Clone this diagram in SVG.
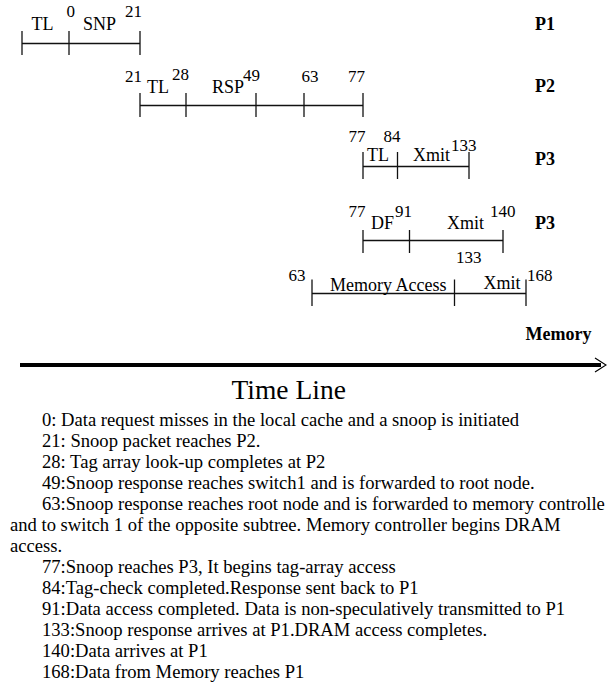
<svg xmlns="http://www.w3.org/2000/svg" width="607" height="692" viewBox="0 0 607 692">
<style>
  text { font-family: "Liberation Serif", "Times New Roman", serif; fill: #000; }
  .lbl { font-size: 18px; }
  .num { font-size: 17px; }
  .proc { font-size: 18px; font-weight: bold; }
  .title { font-size: 27.5px; }
  .body { font-size: 18.6px; }
  .seg line { stroke: #111; stroke-width: 1.3; }
</style>
<rect width="607" height="692" fill="#fff"/>

<g id="p1-row" class="seg">
  <line x1="22" y1="43.5" x2="140" y2="43.5"/>
  <line x1="22" y1="31" x2="22" y2="55"/>
  <line x1="69" y1="31" x2="69" y2="55"/>
  <line x1="140" y1="31" x2="140" y2="55"/>
  <text class="lbl" x="31.5" y="30">TL</text>
  <text class="num" x="66.5" y="17">0</text>
  <text class="lbl" x="83" y="30">SNP</text>
  <text class="num" x="125" y="17">21</text>
  <text class="proc" x="535" y="30">P1</text>
</g>

<g id="p2-row" class="seg">
  <line x1="140" y1="105.5" x2="363" y2="105.5"/>
  <line x1="140" y1="93" x2="140" y2="117"/>
  <line x1="186" y1="93" x2="186" y2="117"/>
  <line x1="256" y1="93" x2="256" y2="117"/>
  <line x1="304" y1="93" x2="304" y2="117"/>
  <line x1="363" y1="93" x2="363" y2="117"/>
  <text class="num" x="125" y="82">21</text>
  <text class="lbl" x="147" y="93">TL</text>
  <text class="num" x="172" y="80">28</text>
  <text class="lbl" x="212" y="93">RSP</text>
  <text class="num" x="243" y="81">49</text>
  <text class="num" x="301.5" y="82">63</text>
  <text class="num" x="348" y="82">77</text>
  <text class="proc" x="535" y="92">P2</text>
</g>

<g id="p3-row-a" class="seg">
  <line x1="363" y1="166.5" x2="469" y2="166.5"/>
  <line x1="363" y1="152" x2="363" y2="179"/>
  <line x1="397.5" y1="152" x2="397.5" y2="179"/>
  <line x1="469" y1="152" x2="469" y2="179"/>
  <text class="num" x="348.5" y="142">77</text>
  <text class="num" x="383.5" y="142">84</text>
  <text class="lbl" x="367" y="161">TL</text>
  <text class="lbl" x="413" y="161">Xmit</text>
  <text class="num" x="451" y="151">133</text>
  <text class="proc" x="535" y="165">P3</text>
</g>

<g id="p3-row-b" class="seg">
  <line x1="363" y1="240.5" x2="503" y2="240.5"/>
  <line x1="363" y1="230" x2="363" y2="253"/>
  <line x1="409.5" y1="230" x2="409.5" y2="253"/>
  <line x1="503" y1="230" x2="503" y2="253"/>
  <text class="num" x="348.5" y="217">77</text>
  <text class="lbl" x="371" y="228.5">DF</text>
  <text class="num" x="395" y="217">91</text>
  <text class="lbl" x="447" y="228.5">Xmit</text>
  <text class="num" x="490" y="217">140</text>
  <text class="num" x="456" y="263">133</text>
  <text class="proc" x="535" y="228.5">P3</text>
</g>

<g id="memory-row" class="seg">
  <line x1="312" y1="293.5" x2="526" y2="293.5"/>
  <line x1="312" y1="279.5" x2="312" y2="306"/>
  <line x1="454.5" y1="279.5" x2="454.5" y2="306"/>
  <line x1="526" y1="279.5" x2="526" y2="306"/>
  <text class="num" x="288.5" y="281">63</text>
  <text class="lbl" x="330" y="291">Memory Access</text>
  <text class="lbl" x="483.5" y="289">Xmit</text>
  <text class="num" x="527" y="280.5">168</text>
  <text class="proc" x="525.5" y="340">Memory</text>
</g>

<g id="connectors">
  <line x1="20" y1="365" x2="601" y2="365" stroke="#000" stroke-width="4"/>
  <polyline points="595,358 606,365 595,372" fill="none" stroke="#000" stroke-width="1.2"/>
</g>

<g id="title">
  <text class="title" x="231.5" y="399">Time Line</text>
</g>

<g id="notes" class="body">
  <text x="42" y="426">0: Data request misses in the local cache and a snoop is initiated</text>
  <text x="42" y="447">21: Snoop packet reaches P2.</text>
  <text x="42" y="468">28: Tag array look-up completes at P2</text>
  <text x="42" y="489">49:Snoop response reaches switch1 and is forwarded to root node.</text>
  <text x="42" y="510">63:Snoop response reaches root node and is forwarded to memory controlle</text>
  <text x="10" y="531">and to switch 1 of the opposite subtree. Memory controller begins DRAM</text>
  <text x="10" y="552">access.</text>
  <text x="42" y="573">77:Snoop reaches P3, It begins tag-array access</text>
  <text x="42" y="594">84:Tag-check completed.Response sent back to P1</text>
  <text x="42" y="615">91:Data access completed. Data is non-speculatively transmitted to P1</text>
  <text x="42" y="636">133:Snoop response arrives at P1.DRAM access completes.</text>
  <text x="42" y="657">140:Data arrives at P1</text>
  <text x="42" y="678">168:Data from Memory reaches P1</text>
</g>
</svg>
